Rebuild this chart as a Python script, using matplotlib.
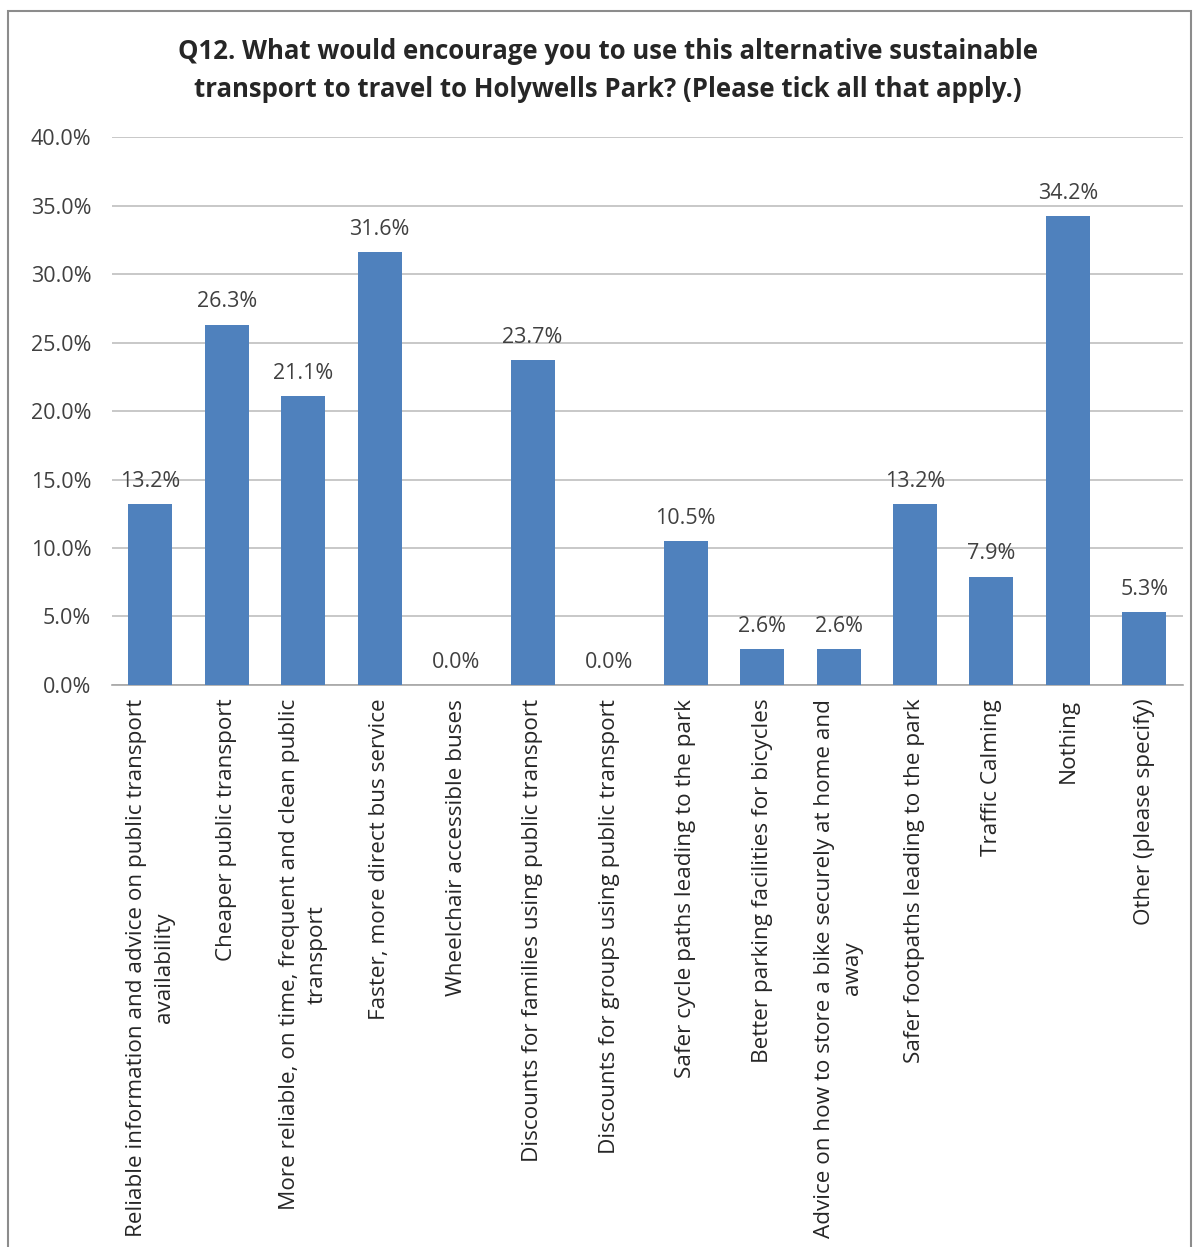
import matplotlib.pyplot as plt
from matplotlib.patches import Rectangle
from matplotlib.ticker import FuncFormatter

categorias = [
    'Reliable information and advice on public transport\navailability',
    'Cheaper public transport',
    'More reliable, on time, frequent and clean public\ntransport',
    'Faster, more direct bus service',
    'Wheelchair accessible buses',
    'Discounts for families using public transport',
    'Discounts for groups using public transport',
    'Safer cycle paths leading to the park',
    'Better parking facilities for bicycles',
    'Advice on how to store a bike securely at home and\naway',
    'Safer footpaths leading to the park',
    'Traffic Calming',
    'Nothing',
    'Other (please specify)',
]
percentuais = [13.2, 26.3, 21.1, 31.6, 0.0, 23.7, 0.0, 10.5, 2.6, 2.6, 13.2, 7.9, 34.2, 5.3]
ticks_y = [0, 5, 10, 15, 20, 25, 30, 35, 40]

titulo = ('Q12. What would encourage you to use this alternative sustainable\n'
          'transport to travel to Holywells Park? (Please tick all that apply.)')

plt.rcParams['font.family'] = ['Open Sans', 'DejaVu Sans']

fig = plt.figure(figsize=(11.97, 12.47), dpi=100)
ax = fig.add_axes([0.0936, 0.4507, 0.8944, 0.4394])

# moldura cinza em volta do gráfico
fig.patches.append(Rectangle((0.007, -0.01), 0.988, 1.001, transform=fig.transFigure,
                             fill=False, edgecolor='#8c8c8c', linewidth=1.5))

x = range(len(categorias))
barras = ax.bar(x, percentuais, width=0.575, color='#4F81BD', zorder=3)

for xi, v in zip(x, percentuais):
    ax.text(xi, v + 0.9, f'{v:.1f}%', ha='center', va='bottom',
            fontsize=15.5, color='#404040', zorder=4)

ax.set_xlim(-0.5, len(categorias) - 0.5)
ax.set_ylim(0, 40)
ax.set_yticks(ticks_y)
ax.yaxis.set_major_formatter(FuncFormatter(lambda v, p: f'{v:.1f}%'))
ax.grid(axis='y', color='#bfbfbf', linewidth=1.2, zorder=0)
ax.tick_params(axis='y', length=0, labelsize=15.5, labelcolor='#404040', pad=15)

ax.set_xticks(list(x))
ax.set_xticklabels(categorias, rotation=90, fontsize=16.2, color='#262626',
                   linespacing=1.45)
ax.tick_params(axis='x', length=0, pad=10)

for lado in ['top', 'right', 'left']:
    ax.spines[lado].set_visible(False)
ax.spines['bottom'].set_color('#a6a6a6')
ax.spines['bottom'].set_linewidth(1.2)

fig.text(0.508, 0.9435, titulo, ha='center', va='center', fontsize=18.5,
         fontweight='bold', color='#262626', linespacing=1.5)

fig.savefig('out.png', dpi=100)
